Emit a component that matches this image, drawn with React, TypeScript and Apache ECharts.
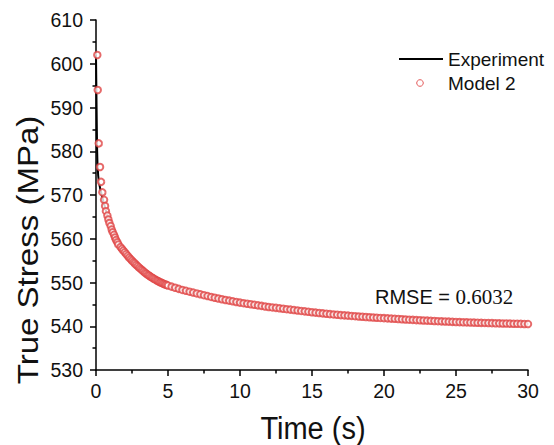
import React, { useEffect, useRef } from "react";
import * as echarts from "echarts";

const xTicks = { min: 0, max: 30, interval: 5 };
const yTicks = { min: 530, max: 610, interval: 10 };

const expTime = [0, 0.02, 0.04, 0.06, 0.08, 0.1, 0.15, 0.2, 0.3, 0.4, 0.5, 0.7, 1, 1.5, 2, 3, 4, 5, 7, 10, 13, 16, 20, 25, 30];
const expStress = [602, 596, 590, 584.5, 580, 577.5, 574.5, 573, 571.3, 570, 568.7, 566.3, 563.1, 559.1, 556.7, 553.2, 550.8, 549.2, 547.4, 545.3, 543.9, 542.8, 541.8, 540.9, 540.5];

const modelTime = [
  0.09, 0.12, 0.19, 0.28, 0.35, 0.44, 0.56, 0.63, 0.69, 0.79, 0.86, 0.93, 1.02, 1.09, 1.16, 1.25, 1.32, 1.39, 1.48, 1.55,
  1.7, 1.8, 1.9, 2.0, 2.1, 2.2, 2.3, 2.4, 2.5, 2.6, 2.7, 2.8, 2.9, 3.0, 3.1, 3.2, 3.3, 3.4, 3.5, 3.6, 3.7, 3.8, 3.9,
  4.0, 4.1, 4.2, 4.3, 4.4, 4.5, 4.6, 4.7, 4.8, 4.9, 5.0,
  5.25, 5.5, 5.75, 6, 6.25, 6.5, 6.75, 7, 7.25, 7.5, 7.75, 8, 8.25, 8.5, 8.75, 9, 9.25, 9.5, 9.75, 10,
  10.25, 10.5, 10.75, 11, 11.25, 11.5, 11.75, 12, 12.25, 12.5, 12.75, 13, 13.25, 13.5, 13.75, 14, 14.25, 14.5, 14.75, 15,
  15.25, 15.5, 15.75, 16, 16.25, 16.5, 16.75, 17, 17.25, 17.5, 17.75, 18, 18.25, 18.5, 18.75, 19, 19.25, 19.5, 19.75, 20,
  20.25, 20.5, 20.75, 21, 21.25, 21.5, 21.75, 22, 22.25, 22.5, 22.75, 23, 23.25, 23.5, 23.75, 24, 24.25, 24.5, 24.75, 25,
  25.25, 25.5, 25.75, 26, 26.25, 26.5, 26.75, 27, 27.25, 27.5, 27.75, 28, 28.25, 28.5, 28.75, 29, 29.25, 29.5, 29.75, 30,
];
const modelStress = [
  602.0, 594.0, 581.8, 576.4, 573.0, 570.6, 568.9, 567.5, 566.3, 565.3, 564.4, 563.6, 562.9, 562.1, 561.5, 560.9, 560.3, 559.7, 559.2, 558.7,
  558.1, 557.7, 557.3, 556.9, 556.5, 556.1, 555.7, 555.35, 555.0, 554.65, 554.35, 554.0, 553.7, 553.4, 553.1, 552.8, 552.55, 552.25, 552.0, 551.75, 551.55, 551.3, 551.1,
  550.9, 550.7, 550.5, 550.35, 550.15, 550.0, 549.85, 549.7, 549.55, 549.45, 549.3,
  549.05, 548.8, 548.55, 548.3, 548.1, 547.9, 547.7, 547.5, 547.3, 547.1, 546.9, 546.7, 546.52, 546.35, 546.17, 546.0, 545.85, 545.7, 545.55, 545.4,
  545.27, 545.15, 545.02, 544.9, 544.77, 544.65, 544.52, 544.4, 544.3, 544.2, 544.1, 544.0, 543.9, 543.8, 543.7, 543.6, 543.5, 543.4, 543.3, 543.2,
  543.11, 543.02, 542.94, 542.85, 542.77, 542.7, 542.62, 542.55, 542.49, 542.42, 542.36, 542.3, 542.24, 542.17, 542.11, 542.05, 542.0, 541.95, 541.9, 541.85,
  541.8, 541.75, 541.7, 541.65, 541.6, 541.55, 541.5, 541.45, 541.41, 541.37, 541.32, 541.28, 541.24, 541.2, 541.16, 541.12, 541.08, 541.05, 541.01, 540.98,
  540.95, 540.92, 540.89, 540.86, 540.83, 540.81, 540.78, 540.76, 540.73, 540.71, 540.68, 540.66, 540.64, 540.62, 540.6, 540.58, 540.56, 540.54, 540.52, 540.5,
];

const seriesNames = ["Experiment", "Model 2"];
const rmseLabel = "RMSE = ";
const rmseValue = "0.6032";
const xTitle = "Time (s)";
const yTitle = "True Stress (MPa)";

const SANS = "Liberation Sans";
const SERIF = "Liberation Serif";
const RED = "#e04545";

export default function App() {
  const ref = useRef<HTMLDivElement>(null);
  useEffect(() => {
    if (!ref.current) return;
    const chart = echarts.init(ref.current, null, { renderer: "svg" });
    const axisCommon = {
      axisLine: { show: true, onZero: false, lineStyle: { color: "#000", width: 1.5 } },
      axisTick: { show: true, inside: false, length: 6, lineStyle: { color: "#000", width: 1.5 } },
      minorTick: { show: true, splitNumber: 2, length: 3.5, lineStyle: { color: "#000", width: 1.5 } },
      splitLine: { show: false },
      axisLabel: { color: "#111", fontSize: 19.5, fontFamily: SANS },
    };
    const txt = (text: string, size: number, family: string) => ({
      text,
      fill: "#111",
      fontSize: size,
      fontFamily: family,
    });
    chart.setOption({
      animation: false,
      backgroundColor: "#fff",
      grid: { left: 96, right: 26, top: 20, bottom: 75 },
      xAxis: {
        type: "value",
        ...xTicks,
        ...axisCommon,
        axisLabel: { ...axisCommon.axisLabel, margin: 11 },
      },
      yAxis: {
        type: "value",
        ...yTicks,
        ...axisCommon,
        axisLabel: { ...axisCommon.axisLabel, margin: 13 },
      },
      series: [
        {
          name: seriesNames[0],
          type: "line",
          data: expTime.map((t, i) => [t, expStress[i]]),
          showSymbol: false,
          symbol: "none",
          lineStyle: { color: "#000", width: 2 },
          z: 1,
        },
        {
          name: seriesNames[1],
          type: "scatter",
          data: modelTime.map((t, i) => [t, modelStress[i]]),
          symbol: "emptyCircle",
          symbolSize: 6.5,
          itemStyle: { color: RED, borderColor: RED, borderWidth: 0.9 },
          z: 2,
        },
      ],
      graphic: [
        {
          type: "text",
          x: 28,
          y: 250,
          rotation: Math.PI / 2,
          scaleX: 1.14,
          style: { ...txt(yTitle, 29, SANS), align: "center", verticalAlign: "middle" },
        },
        {
          type: "text",
          x: 313,
          y: 428,
          scaleY: 1.05,
          style: { ...txt(xTitle, 29, SANS), align: "center", verticalAlign: "middle" },
        },
        { type: "line", shape: { x1: 399, y1: 59, x2: 443, y2: 59 }, style: { stroke: "#000", lineWidth: 2 } },
        { type: "circle", shape: { cx: 420, cy: 83, r: 3.3 }, style: { fill: "#fff", stroke: RED, lineWidth: 0.9 } },
        { type: "text", x: 448, y: 59, style: { ...txt(seriesNames[0], 19, SANS), verticalAlign: "middle" } },
        { type: "text", x: 448, y: 83, style: { ...txt(seriesNames[1], 19, SANS), verticalAlign: "middle" } },
        {
          type: "text",
          x: 375,
          y: 297,
          style: {
            text: `{a|${rmseLabel}}{b|${rmseValue}}`,
            verticalAlign: "middle",
            rich: {
              a: { fontFamily: SANS, fontSize: 20, fill: "#111" },
              b: { fontFamily: SERIF, fontSize: 21, fill: "#111" },
            },
          },
        },
      ],
    });
    return () => chart.dispose();
  }, []);
  return <div ref={ref} style={{ position: "absolute", left: 0, top: 0, width: 554, height: 445 }} />;
}
